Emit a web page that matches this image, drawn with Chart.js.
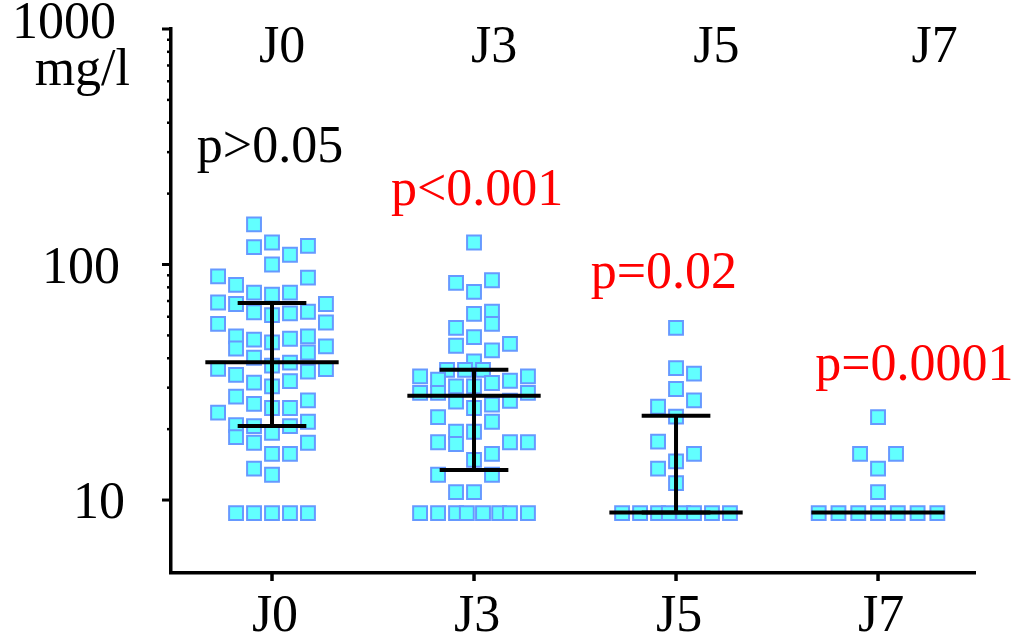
<!DOCTYPE html>
<html lang="fr">
<head>
<meta charset="UTF-8">
<title>mg/l J0-J7</title>
<script src="https://cdn.jsdelivr.net/npm/chart.js"></script>
<style>
  body { margin: 0; background: #fff; }
  #wrap { width: 1023px; height: 639px; }
</style>
</head>
<body>
<div id="wrap"><canvas id="chart" width="1023" height="639"></canvas></div>
<script>
// ---- data ----
const categories = ['J0', 'J3', 'J5', 'J7'];

// values (mg/l) and swarm column (slot) of each square
const j0Values = [148, 118.6, 124, 110, 120, 100,
  89, 82, 88, 76, 74.5, 76,
  69, 68, 68, 62.7, 61, 62, 63,
  56.7, 56, 49.5, 44, 48, 46.7, 48.4, 49.5, 42.3, 44.9,
  40.2, 37.2, 38.3, 36.1, 35.1, 36, 34,
  31.5, 30.4, 32, 27.5, 25.6, 24.6, 24.6, 26.5, 23.5,
  20.8, 20.6, 19.3, 20.6, 21.5, 18.5, 17.5, 17.5,
  15.7, 15.7, 13.6, 12.8,
  8.8, 8.8, 8.8, 8.8, 8.8];
const j0Cols = [-1, -1, 0, 1, 2, 0,
  -3, -2, 2, -1, 0, 1,
  -3, -2, 3, -1, 0, 1, 2,
  3, -3, -2, -2, -1, 0, 1, 2, 2, 3,
  -1, 0, 1, -3, 2, 3, -2,
  -1, 0, 1, -2, -1, 0, 1, 2, -3,
  -2, -1, 0, 1, 2, -2, -1, 2,
  0, 1, -1, 0,
  -2, -1, 0, 1, 2];

const j3Values = [124, 83.6, 85.7, 76.5, 61.7, 63, 56, 53.8, 49.2, 45.2, 43.2, 46, 38.8,
  35.7, 35.7, 35.7, 33.5, 32.4, 30.4, 31.4, 32.1, 33.5,
  28.5, 28.5, 28.5, 30.4, 26.2, 26.4, 25.4, 24.6,
  22.5, 21.5, 19.5, 19.5, 17.6, 17.3, 17.6, 17.6,
  15.7, 14.8, 12.8, 12.8, 10.8, 10.8,
  8.8, 8.8, 8.8, 8.8, 8.8, 8.8, 8.8, 8.8];
const j3Cols = [0, -1, 1, 0, 0, 1, 1, -1, 0, -1, 1, 2, 0,
  -1.5, -0.5, 0.5, -3, -2, -1, 1, 2, 3,
  -3, -2, 3, 0, -1, 2, 1, 0,
  -2, 1, -1, 0, -2, -1, 2, 3,
  1, 0, -2, 1, -1, 0,
  -3, -2, -1, -0.4, 0.5, 1.4, 2, 3];

const j5Values = [53.8, 36.3, 34.4, 29.6, 26.5, 24.9, 22.6, 17.7, 15.7, 14.6, 13.6, 11.8,
  8.8, 8.8, 8.8, 8.8, 8.8, 8.8, 8.8, 8.8];
const j5Cols = [0, 0, 1, 0, 1, -1, 0, -1, 1, 0, -1, 0,
  -3, -2, -1, -0.4, 0.4, 1, 2, 3];

const j7Values = [22.5, 15.7, 15.7, 13.6, 10.8,
  8.8, 8.8, 8.8, 8.8, 8.8, 8.8, 8.8];
const j7Cols = [0, -1, 1, 0, 0,
  -3.3, -2.2, -1.1, 0, 1.1, 2.2, 3.3];

const medians = [38.5, 27.7, 8.85, 8.85];
const q1 = [20.6, 13.4, 8.85, 8.85];
const q3 = [68.7, 35.7, 22.8, 8.85];

const yTickValues = [10, 100, 1000];
const yTickLabels = ['10', '100', '1000'];
const yMinorValues = [20, 30, 40, 50, 60, 70, 80, 90, 200, 300, 400, 500, 600, 700, 800, 900];
const yUnit = 'mg/l';

const topLabelX = [0.05, 1.1, 2.2, 3.28];
const topLabelY = 725;

const pLabels = ['p>0.05', 'p<0.001', 'p=0.02', 'p=0.0001'];
const pLabelX = [-0.01, 1.015, 1.94, 3.18];
const pLabelY = [272, 179, 79.4, 32.4];
const pColors = ['#000000', '#ff0000', '#ff0000', '#ff0000'];

// ---- build datasets ----
const COL_STEP = 0.089;
const groups = [[j0Values, j0Cols], [j3Values, j3Cols], [j5Values, j5Cols], [j7Values, j7Cols]];

function swarm(i) {
  const [vals, cols] = groups[i];
  return vals.map((v, k) => ({ x: i + cols[k] * COL_STEP, y: v }));
}

function segments(fn) {
  const pts = [];
  categories.forEach((c, i) => {
    fn(i).forEach(p => pts.push(p));
    pts.push({ x: i + 0.5, y: null });
  });
  return pts;
}

const MED_HALF = 0.33, CAP_HALF = 0.17;
const medianPts = segments(i => [{ x: i - MED_HALF, y: medians[i] }, { x: i + MED_HALF, y: medians[i] }]);
const capPts = segments(i => q3[i] === medians[i] && q1[i] === medians[i] ? [] : [
  { x: i - CAP_HALF, y: q3[i] }, { x: i + CAP_HALF, y: q3[i] }, { x: i + CAP_HALF, y: null },
  { x: i - CAP_HALF, y: q1[i] }, { x: i + CAP_HALF, y: q1[i] }]);
const barPts = segments(i => [{ x: i, y: q1[i] }, { x: i, y: q3[i] }]);

const squareStyle = {
  pointStyle: 'rect',
  pointRadius: 9.8,
  pointBackgroundColor: '#62ffff',
  pointBorderColor: '#6699ff',
  pointBorderWidth: 2,
  showLine: false,
  order: 2
};
const lineStyle = {
  showLine: true,
  spanGaps: false,
  borderColor: '#000',
  pointRadius: 0,
  order: 0
};

const datasets = [
  Object.assign({ label: 'medianes', data: medianPts, borderWidth: 4 }, lineStyle),
  Object.assign({ label: 'quartiles', data: capPts, borderWidth: 4 }, lineStyle),
  Object.assign({ label: 'barres', data: barPts, borderWidth: 4 }, lineStyle)
].concat(categories.map((c, i) => Object.assign({ label: c, data: swarm(i) }, squareStyle)));

// ---- axis decoration & annotations ----
const FONT = '"Liberation Serif", "Times New Roman", serif';
const yLabelGap = [46, 51, 55];

const decorPlugin = {
  id: 'decor',
  afterDraw(chart) {
    const { ctx, chartArea, scales: { x, y } } = chart;
    ctx.save();
    ctx.strokeStyle = '#000';
    ctx.lineCap = 'butt';

    // y ticks
    ctx.lineWidth = 3;
    yTickValues.forEach(v => {
      const py = y.getPixelForValue(v);
      ctx.beginPath();
      ctx.moveTo(chartArea.left - 9, py);
      ctx.lineTo(chartArea.left, py);
      ctx.stroke();
    });
    ctx.lineWidth = 2.5;
    yMinorValues.forEach(v => {
      const py = y.getPixelForValue(v);
      ctx.beginPath();
      ctx.moveTo(chartArea.left - 4, py);
      ctx.lineTo(chartArea.left, py);
      ctx.stroke();
    });

    // x ticks
    ctx.lineWidth = 3.5;
    categories.forEach((c, i) => {
      const px = x.getPixelForValue(i);
      ctx.beginPath();
      ctx.moveTo(px, chartArea.bottom);
      ctx.lineTo(px, chartArea.bottom + 8);
      ctx.stroke();
    });

    ctx.font = '52px ' + FONT;
    ctx.fillStyle = '#000';
    ctx.textBaseline = 'alphabetic';

    // y labels
    ctx.textAlign = 'right';
    yTickValues.forEach((v, k) => {
      const py = y.getPixelForValue(v);
      ctx.fillText(yTickLabels[k], chartArea.left - yLabelGap[k], py + (k === 2 ? 9 : 18));
    });
    ctx.fillText(yUnit, chartArea.left - 41, y.getPixelForValue(1000) + 56);

    // x labels (bottom and top)
    ctx.textAlign = 'center';
    categories.forEach((c, i) => {
      ctx.fillText(c, x.getPixelForValue(i) + 3, chartArea.bottom + 58);
      ctx.fillText(c, x.getPixelForValue(topLabelX[i]), y.getPixelForValue(topLabelY));
    });

    // p values
    pLabels.forEach((t, i) => {
      ctx.fillStyle = pColors[i];
      ctx.fillText(t, x.getPixelForValue(pLabelX[i]), y.getPixelForValue(pLabelY[i]));
    });
    ctx.restore();
  }
};

new Chart(document.getElementById('chart'), {
  type: 'scatter',
  data: { datasets: datasets },
  options: {
    responsive: false,
    animation: false,
    layout: { padding: { left: 171, right: 48, top: 29, bottom: 66 } },
    plugins: { legend: { display: false }, tooltip: { enabled: false } },
    scales: {
      x: {
        type: 'linear',
        bounds: 'data',
        min: -0.5,
        max: 3.48,
        grid: { display: false, drawTicks: false },
        ticks: { display: false },
        border: { display: true, color: '#000', width: 3.5 }
      },
      y: {
        type: 'logarithmic',
        bounds: 'data',
        min: 4.9,
        max: 1000,
        grid: { display: false, drawTicks: false },
        ticks: { display: false },
        border: { display: true, color: '#000', width: 3.5 }
      }
    }
  },
  plugins: [decorPlugin]
});
</script>
</body>
</html>
